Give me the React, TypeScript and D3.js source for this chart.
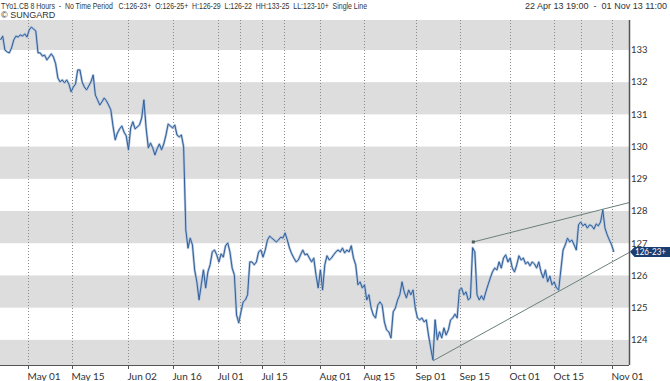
import React from 'react';
import * as d3 from 'd3';

const W = 670;
const H = 381;

const headerLeft = 'TYo1.CB 8 Hours  -  No Time Period   C:126-23+  O:126-25+  H:126-29  L:126-22  HH:133-25  LL:123-10+  Single Line';
const headerRight = '22 Apr 13 19:00  -  01 Nov 13 11:00';
const copyright = '\u00A9 SUNGARD';
const lastLabel = '126-23+';
const lastValue = 126.734;

const xTickLabels = ['May 01', 'May 15', 'Jun 02', 'Jun 16', 'Jul 01', 'Jul 15', 'Aug 01', 'Aug 15', 'Sep 01', 'Sep 15', 'Oct 01', 'Oct 15', 'Nov 01'];
const xTickDates = ['2013-05-01', '2013-05-15', '2013-06-02', '2013-06-16', '2013-07-01', '2013-07-15', '2013-08-01', '2013-08-15', '2013-09-01', '2013-09-15', '2013-10-01', '2013-10-15', '2013-11-01'];
const extraGridDates = ['2013-07-08', '2013-07-22', '2013-10-23'];
const yTicks = [124, 125, 126, 127, 128, 129, 130, 131, 132, 133];
const yBands = [123, 125, 127, 129, 131, 133];

// 8-hour close line, sampled evenly in trading time from 22 Apr 13 19:00 to 01 Nov 13 11:00
const closes = [
  133.31, 133.43, 133.00, 132.94, 132.91, 133.06, 133.31, 133.43, 133.40, 133.47,
  133.43, 133.50, 133.40, 133.62, 133.71, 133.65, 133.59, 132.91, 132.91, 132.81,
  132.84, 132.69, 132.78, 132.88, 132.78, 132.57, 132.13, 132.01, 132.07, 131.98,
  132.07, 131.94, 131.70, 131.85, 131.94, 132.38, 132.38, 132.01, 131.85, 131.76,
  131.88, 132.01, 132.22, 131.60, 131.45, 131.29, 131.39, 131.51, 131.42, 131.29,
  131.14, 130.64, 130.21, 130.42, 130.55, 130.64, 130.45, 130.33, 129.90, 130.58,
  130.77, 130.55, 130.61, 130.67, 130.89, 131.45, 130.58, 129.96, 130.11, 129.96,
  129.74, 129.93, 130.08, 129.90, 130.08, 130.36, 130.70, 130.64, 130.58, 130.67,
  130.36, 130.30, 130.36, 129.99, 127.41, 126.85, 127.16, 126.95, 126.17, 125.80,
  125.24, 125.71, 126.17, 125.61, 126.11, 126.33, 126.73, 126.79, 126.64, 126.42,
  126.67, 126.57, 126.92, 127.01, 126.73, 126.23, 126.02, 124.77, 124.53, 124.87,
  125.18, 125.24, 125.40, 126.42, 126.42, 126.33, 126.42, 126.73, 126.79, 126.57,
  126.79, 127.10, 127.22, 127.16, 127.10, 127.04, 127.10, 127.19, 127.16, 127.32,
  127.10, 126.85, 126.67, 126.54, 126.42, 126.48, 126.64, 126.79, 126.64, 126.67,
  126.54, 126.42, 126.54, 126.02, 125.61, 126.17, 125.55, 126.33, 126.61, 126.48,
  126.54, 126.64, 126.73, 126.79, 126.73, 126.85, 126.70, 126.79, 126.73, 126.92,
  126.54, 126.33, 125.71, 125.80, 125.61, 125.71, 125.24, 125.40, 124.99, 124.77,
  124.68, 125.08, 125.18, 125.08, 124.56, 124.31, 124.25, 124.06, 124.87, 124.99,
  125.24, 125.40, 125.80, 125.49, 125.30, 125.55, 125.40, 125.55, 124.99, 124.68,
  124.62, 124.68, 124.56, 124.62, 124.15, 123.75, 123.38, 124.62, 124.00, 124.25,
  124.06, 124.37, 124.15, 124.31, 124.62, 124.68, 124.80, 124.68, 125.55, 125.61,
  125.40, 125.49, 125.24, 125.30, 126.86, 126.73, 125.40, 125.24, 125.37, 125.24,
  125.49, 125.71, 125.92, 126.11, 126.23, 126.17, 126.42, 126.23, 126.54, 126.64,
  126.42, 126.54, 126.23, 126.11, 126.33, 126.61, 126.48, 126.54, 126.36, 126.42,
  126.30, 126.42, 126.36, 126.23, 126.42, 126.11, 125.92, 126.17, 125.80, 125.98,
  125.71, 125.80, 125.61, 125.55, 126.17, 126.79, 126.95, 127.16, 127.04, 127.10,
  126.95, 126.79, 127.57, 127.66, 127.54, 127.60, 127.47, 127.57, 127.54, 127.44,
  127.60, 127.54, 127.66, 128.03, 127.47, 127.26, 127.10, 126.95, 126.73,
];

// trend lines: [trading day, price]
const trendUpper: [number, number][] = [[106.9, 127.04], [142.1, 128.26]];
const trendLower: [number, number][] = [[97.8, 123.35], [142.1, 126.71]];

// trading-time (weekdays) elapsed since 22 Apr 13 19:00
function tradingDays(iso: string, hour = 0): number {
  const [y, m, d] = iso.split('-').map(Number);
  const target = new Date(y, m - 1, d);
  let t = 5 / 24;
  const cur = new Date(2013, 3, 23);
  while (cur < target) {
    const wd = cur.getDay();
    if (wd !== 0 && wd !== 6) t += 1;
    cur.setDate(cur.getDate() + 1);
  }
  const wd = target.getDay();
  if (wd === 0) t -= 0.3;
  else if (wd !== 6) t += hour / 24;
  return t;
}

const tEnd = tradingDays('2013-11-01', 11);

export default function App() {
  const left = 0;
  const right = 629;
  const top = 20;
  const bottom = 365;

  const x = d3.scaleLinear().domain([0, 142.1]).range([0.5, right]);
  const y = d3.scaleLinear().domain([123.22, 133.93]).range([bottom, top]);

  const step = tEnd / (closes.length - 1);
  const pts: [number, number][] = closes.map((v, i) => [i * step, v]);
  const line = d3.line<[number, number]>().x(d => x(d[0])).y(d => y(d[1]));
  const path = line(pts) || '';
  const upPath = line(trendUpper) || '';
  const lowPath = line(trendLower) || '';

  const fontAxis = 'Lato, "DejaVu Sans", sans-serif';
  const fontHead = '"Liberation Sans", Arial, sans-serif';

  const ly = y(lastValue);

  return (
    <svg width={W} height={H} style={{ position: 'absolute', left: 0, top: 0, background: '#fff' }}>
      <defs>
        <clipPath id="plot">
          <rect x={left} y={top} width={right - left} height={bottom - top} />
        </clipPath>
      </defs>
      {/* bands */}
      <g clipPath="url(#plot)">
        {yBands.map(b => (
          <rect key={b} x={left} y={y(b + 1)} width={right - left} height={y(b) - y(b + 1)} fill="#dddddd" />
        ))}
      </g>
      {/* vertical dotted gridlines */}
      {[...xTickDates, ...extraGridDates].map(d => {
        const gx = Math.round(x(tradingDays(d))) + 0.5;
        return <line key={d} x1={gx} x2={gx} y1={top} y2={bottom} stroke="#8a8a8a" strokeWidth={1} strokeDasharray="1,2" />;
      })}
      {/* price line */}
      <g clipPath="url(#plot)">
        <path d={path} fill="none" stroke="#a6bcd8" strokeWidth={2.4} strokeLinejoin="round" opacity={0.9} />
        <path d={path} fill="none" stroke="#315f9a" strokeWidth={1} strokeLinejoin="miter" />
        <path d={upPath} fill="none" stroke="#6b807c" strokeWidth={1} />
        <path d={lowPath} fill="none" stroke="#6b807c" strokeWidth={1} />
        <rect x={x(trendUpper[0][0]) - 1.5} y={y(trendUpper[0][1]) - 1.5} width={3} height={3} fill="#4d5f5b" />
      </g>
      {/* axes */}
      <line x1={left} x2={right} y1={bottom + 0.5} y2={bottom + 0.5} stroke="#555" strokeWidth={1.2} />
      <line x1={right + 0.5} x2={right + 0.5} y1={top} y2={bottom} stroke="#555" strokeWidth={1.5} />
      {xTickDates.map((d, i) => {
        const gx = Math.round(x(tradingDays(d))) + 0.5;
        return (
          <g key={d}>
            <line x1={gx} x2={gx} y1={bottom} y2={bottom + 4} stroke="#555" strokeWidth={1} />
            <text x={gx - 1} y={380} fontSize={10} fontFamily={fontAxis} fill="#333">{xTickLabels[i]}</text>
          </g>
        );
      })}
      {yTicks.map(t => (
        <text key={t} x={631} y={y(t) + 3.3} fontSize={9.5} fontFamily={fontAxis} fill="#333">{t}</text>
      ))}
      {/* last value marker */}
      <path d={`M${right + 1},${ly} L${right + 5.5},${ly - 4.8} L${W},${ly - 4.8} L${W},${ly + 5.2} L${right + 5.5},${ly + 5.2} Z`} fill="#1c3d70" />
      <text x={635} y={ly + 3.5} fontSize={9} fontFamily={fontAxis} fill="#fff" textLength={31} lengthAdjust="spacingAndGlyphs">{lastLabel}</text>
      {/* header */}
      <text x={1} y={8.5} fontSize={9} fontFamily={fontHead} fill="#333" textLength={366} lengthAdjust="spacingAndGlyphs" style={{ whiteSpace: 'pre' }}>{headerLeft}</text>
      <text x={667} y={8.5} fontSize={9} fontFamily={fontHead} fill="#333" textAnchor="end" style={{ whiteSpace: 'pre' }}>{headerRight}</text>
      <text x={1} y={18} fontSize={9} fontFamily={fontHead} fill="#333">{copyright}</text>
    </svg>
  );
}
